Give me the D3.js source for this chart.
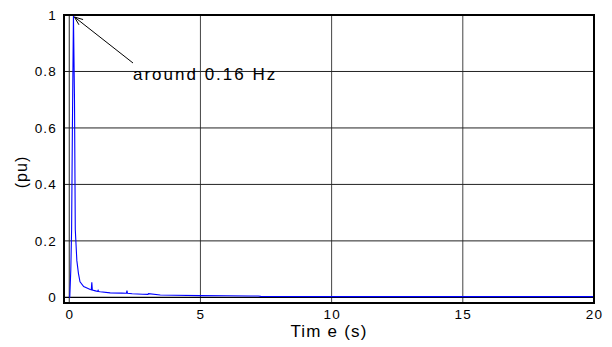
<!DOCTYPE html>
<html>
<head>
<meta charset="utf-8">
<script src="https://cdn.jsdelivr.net/npm/d3@7/dist/d3.min.js"></script>
<style>
  html, body { margin: 0; padding: 0; background: #fff; }
  svg { display: block; font-family: "Liberation Sans", Arial, sans-serif; }
</style>
</head>
<body>
<svg id="chart" width="612" height="347"></svg>
<script>
// Time samples (s) and normalised response (pu)
const timeS = [0, 0.02, 0.06, 0.09, 0.12, 0.16, 0.2, 0.23, 0.29, 0.35, 0.41, 0.55, 0.8, 0.84, 0.86, 0.88, 1.0, 1.08, 1.1, 1.12, 1.18, 1.56, 2.0, 2.18, 2.2, 2.22, 2.4, 2.8, 3.0, 3.02, 3.47, 4.0, 5.0, 6.0, 6.9, 7.2, 7.3, 10.7, 15, 20];
const valuePu = [0, 0, 0.1, 0.24, 0.6, 1.0, 0.7, 0.24, 0.13, 0.085, 0.055, 0.038, 0.028, 0.027, 0.053, 0.026, 0.023, 0.021, 0.025, 0.021, 0.02, 0.016, 0.0148, 0.0145, 0.024, 0.0143, 0.013, 0.011, 0.0105, 0.013, 0.0085, 0.0075, 0.006, 0.0055, 0.005, 0.005, 0.0035, 0.0025, 0.0025, 0.0025];
const xTicks = [0, 5, 10, 15, 20];
const yTicks = [0, 0.2, 0.4, 0.6, 0.8, 1];
const annotationText = "around 0.16 Hz";
const peakT = 0.16, peakV = 1.0;

const svg = d3.select("#chart");
const L = 64, R = 594, T = 15, B = 303;

const x = d3.scaleLinear().domain([-0.2, 20]).range([L, R]);
const y = d3.scaleLinear().domain([-0.02, 1]).range([B, T]);

// grid
const g = svg.append("g");
g.selectAll(".vg").data(xTicks.filter(d => d > 0 && d < 20)).join("line")
  .attr("x1", d => x(d)).attr("x2", d => x(d)).attr("y1", T).attr("y2", B)
  .attr("stroke", "#444").attr("stroke-width", 1);
g.selectAll(".hg").data(yTicks.filter(d => d > 0 && d < 1)).join("line")
  .attr("y1", d => y(d)).attr("y2", d => y(d)).attr("x1", L).attr("x2", R)
  .attr("stroke", "#222").attr("stroke-width", 1);
// zero lines
g.append("line").attr("x1", x(0)).attr("x2", x(0)).attr("y1", T).attr("y2", B)
  .attr("stroke", "#222").attr("stroke-width", 1);
g.append("line").attr("x1", L).attr("x2", R).attr("y1", y(0)).attr("y2", y(0))
  .attr("stroke", "#000").attr("stroke-width", 1.2);

// data line
const line = d3.line().x((d, i) => x(timeS[i])).y(d => y(d));
svg.append("path").datum(valuePu)
  .attr("d", line)
  .attr("fill", "none").attr("stroke", "#0000ff").attr("stroke-width", 1.1);

// frame
svg.append("rect").attr("x", L).attr("y", T).attr("width", R - L).attr("height", B - T)
  .attr("fill", "none").attr("stroke", "#000").attr("stroke-width", 2);

// axes
const xAxis = d3.axisBottom(x).tickValues(xTicks).tickFormat(d3.format("d")).tickSize(0).tickPadding(6.5);
const xa = svg.append("g").attr("transform", `translate(0,${B})`).call(xAxis);
xa.select(".domain").remove();
xa.selectAll("text").attr("font-size", 13.5).attr("fill", "#000")
  .attr("font-family", "Liberation Sans, Arial, sans-serif").style("letter-spacing", "1.2px");

const yAxis = d3.axisLeft(y).tickValues(yTicks).tickFormat(d => d === 0 ? "0" : d === 1 ? "1" : d3.format(".1f")(d)).tickSize(0).tickPadding(7);
const ya = svg.append("g").attr("transform", `translate(${L},0)`).call(yAxis);
ya.select(".domain").remove();
ya.selectAll("text").attr("font-size", 13.5).attr("fill", "#000")
  .attr("font-family", "Liberation Sans, Arial, sans-serif").style("letter-spacing", "1.2px");

// axis titles
svg.append("text").attr("x", 329).attr("y", 337).attr("text-anchor", "middle")
  .attr("font-size", 17).style("letter-spacing", "1.2px").text("Tim e (s)");
svg.append("text").attr("transform", "translate(27,172) rotate(-90)")
  .attr("text-anchor", "middle").attr("font-size", 16).style("letter-spacing", "1px").text("(pu)");

// annotation
const tip = [x(peakT) + 1, y(peakV) + 2];
const tail = [133, 63];
svg.append("line").attr("x1", tail[0]).attr("y1", tail[1]).attr("x2", tip[0]).attr("y2", tip[1])
  .attr("stroke", "#000").attr("stroke-width", 1);
const ang = Math.atan2(tail[1] - tip[1], tail[0] - tip[0]);
const ah = 9, aw = 0.38;
svg.append("path")
  .attr("d", `M${tip[0] + ah * Math.cos(ang - aw)},${tip[1] + ah * Math.sin(ang - aw)} L${tip[0]},${tip[1]} L${tip[0] + ah * Math.cos(ang + aw)},${tip[1] + ah * Math.sin(ang + aw)}`)
  .attr("fill", "none").attr("stroke", "#000").attr("stroke-width", 1);
svg.append("text").attr("x", 133).attr("y", 80).attr("font-size", 17)
  .style("letter-spacing", "2px").text(annotationText);
</script>
</body>
</html>
